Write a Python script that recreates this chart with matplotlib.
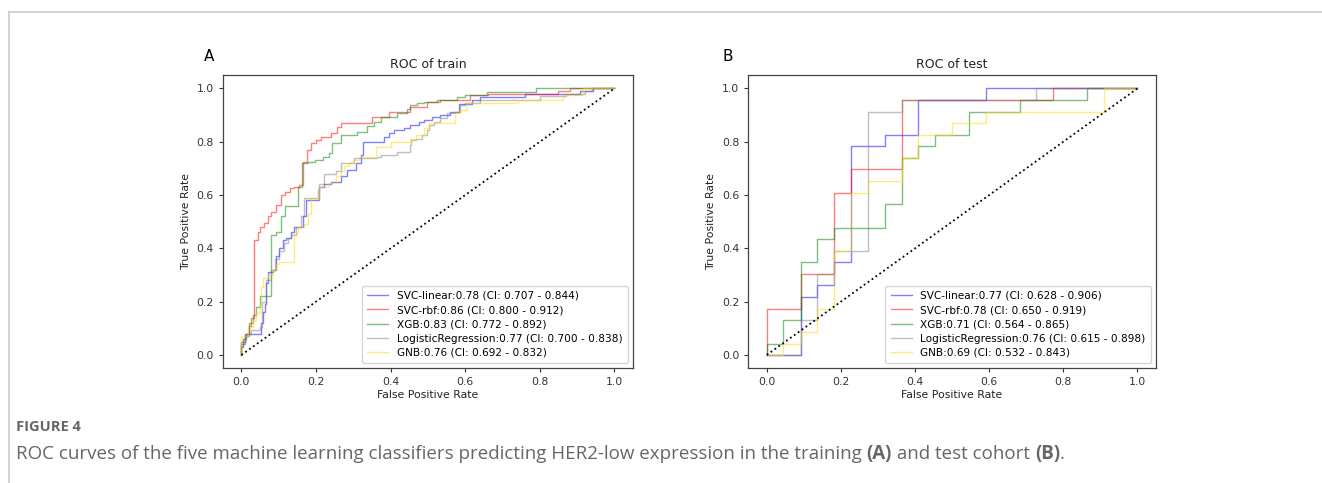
import matplotlib
matplotlib.use("Agg")
import matplotlib.pyplot as plt
from matplotlib.lines import Line2D

# ---- data (fpr where tpr jumps, tpr after the jump) ----
# training cohort
train_svc_lin_fpr = [0, 0.005, 0.013, 0.053, 0.058, 0.062, 0.067, 0.071, 0.084, 0.093, 0.102, 0.111, 0.12, 0.133,
                     0.142, 0.165, 0.173, 0.209, 0.222, 0.24, 0.267, 0.284, 0.307, 0.32, 0.326, 0.382, 0.396, 0.409,
                     0.436, 0.453, 0.476, 0.489, 0.511, 0.533, 0.56, 0.582, 0.618, 0.64, 0.76, 0.907, 0.942, 1]
train_svc_lin_tpr = [0.03, 0.06, 0.08, 0.12, 0.16, 0.19, 0.27, 0.31, 0.32, 0.37, 0.40, 0.43, 0.44, 0.46,
                     0.48, 0.52, 0.58, 0.63, 0.64, 0.65, 0.67, 0.694, 0.72, 0.75, 0.80, 0.816, 0.834, 0.844,
                     0.85, 0.862, 0.875, 0.881, 0.891, 0.90, 0.912, 0.941, 0.956, 0.969, 0.979, 0.99, 1.0, 1.0]

train_svc_rbf_fpr = [0, 0.01, 0.02, 0.027, 0.034, 0.044, 0.05, 0.06, 0.071, 0.08, 0.093, 0.105, 0.116, 0.129,
                     0.142, 0.155, 0.164, 0.176, 0.187, 0.2, 0.213, 0.24, 0.256, 0.267, 0.351, 0.395, 0.453,
                     0.498, 0.533, 0.613, 0.66, 0.848, 0.88, 1]
train_svc_rbf_tpr = [0.05, 0.08, 0.11, 0.139, 0.43, 0.46, 0.48, 0.495, 0.52, 0.537, 0.562, 0.60, 0.612, 0.625,
                     0.631, 0.637, 0.725, 0.769, 0.794, 0.806, 0.819, 0.831, 0.856, 0.869, 0.894, 0.912, 0.931,
                     0.95, 0.958, 0.975, 0.979, 0.99, 1.0, 1.0]

train_xgb_fpr = [0, 0.01, 0.02, 0.03, 0.04, 0.049, 0.08, 0.093, 0.107, 0.116, 0.151, 0.162, 0.178, 0.196, 0.218,
                 0.236, 0.244, 0.267, 0.311, 0.338, 0.356, 0.373, 0.418, 0.444, 0.453, 0.471, 0.489, 0.524, 0.578,
                 0.6, 0.658, 0.791, 1]
train_xgb_tpr = [0.04, 0.07, 0.12, 0.15, 0.18, 0.22, 0.45, 0.46, 0.52, 0.56, 0.63, 0.72, 0.725, 0.731, 0.744,
                 0.756, 0.794, 0.825, 0.838, 0.859, 0.875, 0.894, 0.906, 0.921, 0.938, 0.944, 0.95, 0.958, 0.969,
                 0.975, 0.988, 1.0, 1.0]

train_lr_fpr = [0, 0.01, 0.027, 0.049, 0.055, 0.067, 0.08, 0.09, 0.102, 0.115, 0.124, 0.133, 0.147, 0.16, 0.169,
                0.204, 0.209, 0.222, 0.253, 0.267, 0.302, 0.364, 0.373, 0.418, 0.453, 0.455, 0.467, 0.484, 0.498,
                0.502, 0.516, 0.533, 0.551, 0.573, 0.587, 0.6, 0.64, 0.8, 0.87, 0.92, 0.94, 1]
train_lr_tpr = [0.05, 0.08, 0.094, 0.106, 0.2, 0.28, 0.32, 0.36, 0.39, 0.42, 0.44, 0.45, 0.48, 0.52, 0.59,
                0.62, 0.64, 0.68, 0.69, 0.72, 0.7375, 0.744, 0.75, 0.7625, 0.787, 0.806, 0.812, 0.825, 0.844,
                0.8625, 0.875, 0.8875, 0.906, 0.912, 0.9375, 0.944, 0.956, 0.97, 0.98, 0.99, 1.0, 1.0]

train_gnb_fpr = [0, 0.018, 0.03, 0.04, 0.049, 0.053, 0.058, 0.071, 0.084, 0.093, 0.102, 0.142, 0.151, 0.169,
                 0.178, 0.187, 0.209, 0.231, 0.253, 0.267, 0.276, 0.289, 0.298, 0.316, 0.36, 0.4, 0.453, 0.467,
                 0.489, 0.502, 0.573, 0.585, 0.604, 0.742, 0.862, 0.915, 1]
train_gnb_tpr = [0.07, 0.106, 0.13, 0.156, 0.19, 0.256, 0.29, 0.30, 0.32, 0.34, 0.35, 0.46, 0.48, 0.49,
                 0.53, 0.59, 0.63, 0.645, 0.67, 0.69, 0.71, 0.725, 0.73, 0.744, 0.781, 0.80, 0.812, 0.825,
                 0.85, 0.869, 0.906, 0.92, 0.944, 0.956, 0.975, 1.0, 1.0]

# test cohort (22 negatives, 23 positives)
test_svc_lin_fpr = [0, 0.091, 0.136, 0.182, 0.227, 0.318, 0.409, 0.591, 1]
test_svc_lin_tpr = [0, 0.217, 0.261, 0.348, 0.783, 0.826, 0.957, 1.0, 1.0]

test_svc_rbf_fpr = [0, 0.091, 0.182, 0.227, 0.364, 0.773, 1]
test_svc_rbf_tpr = [0.174, 0.304, 0.609, 0.696, 0.957, 1.0, 1.0]

test_xgb_fpr = [0, 0.045, 0.091, 0.136, 0.182, 0.318, 0.364, 0.409, 0.455, 0.545, 0.682, 0.864, 1]
test_xgb_tpr = [0.043, 0.13, 0.348, 0.435, 0.478, 0.565, 0.739, 0.783, 0.826, 0.913, 0.957, 1.0, 1.0]

test_lr_fpr = [0, 0.091, 0.136, 0.182, 0.273, 0.364, 0.727, 1]
test_lr_tpr = [0, 0.13, 0.304, 0.391, 0.913, 0.957, 1.0, 1.0]

test_gnb_fpr = [0, 0.045, 0.091, 0.136, 0.182, 0.227, 0.273, 0.364, 0.409, 0.5, 0.591, 0.909, 1]
test_gnb_tpr = [0, 0.043, 0.087, 0.174, 0.391, 0.609, 0.652, 0.739, 0.826, 0.870, 0.913, 1.0, 1.0]

names = ["SVC-linear", "SVC-rbf", "XGB", "LogisticRegression", "GNB"]
colors = ["blue", "red", "green", "gray", "gold"]
train_auc = ["0.78 (CI: 0.707 - 0.844)", "0.86 (CI: 0.800 - 0.912)", "0.83 (CI: 0.772 - 0.892)",
             "0.77 (CI: 0.700 - 0.838)", "0.76 (CI: 0.692 - 0.832)"]
test_auc = ["0.77 (CI: 0.628 - 0.906)", "0.78 (CI: 0.650 - 0.919)", "0.71 (CI: 0.564 - 0.865)",
            "0.76 (CI: 0.615 - 0.898)", "0.69 (CI: 0.532 - 0.843)"]

train_curves = [(train_svc_lin_fpr, train_svc_lin_tpr), (train_svc_rbf_fpr, train_svc_rbf_tpr),
                (train_xgb_fpr, train_xgb_tpr), (train_lr_fpr, train_lr_tpr), (train_gnb_fpr, train_gnb_tpr)]
test_curves = [(test_svc_lin_fpr, test_svc_lin_tpr), (test_svc_rbf_fpr, test_svc_rbf_tpr),
               (test_xgb_fpr, test_xgb_tpr), (test_lr_fpr, test_lr_tpr), (test_gnb_fpr, test_gnb_tpr)]

fig = plt.figure(figsize=(13.22, 4.83), dpi=100)

# page frame lines
fig.add_artist(Line2D([9 / 1322, 1], [1 - 12 / 483, 1 - 12 / 483], color="#cccccc", lw=1.2))
fig.add_artist(Line2D([9 / 1322, 9 / 1322], [0, 1 - 12 / 483], color="#cccccc", lw=1.2))

panels = [
    ([0.1685, 0.2375, 0.3104, 0.607], 204, "A", "ROC of train", train_curves, train_auc),
    ([0.566, 0.2375, 0.3084, 0.607], 722, "B", "ROC of test", test_curves, test_auc),
]

for rect, letter_x, letter, title, curves, aucs in panels:
    ax = fig.add_axes(rect)
    for (fpr, tpr), name, c, auc in zip(curves, names, colors, aucs):
        ax.plot([0] + fpr, [0] + tpr, drawstyle="steps-post", color=c, alpha=0.5, lw=1.0,
                label=name + ":" + auc)
    ax.plot([0, 1], [0, 1], color="black", linestyle=":", lw=1.3)
    ax.set_xlim(-0.05, 1.05)
    ax.set_ylim(-0.05, 1.05)
    ax.set_xticks([0, 0.2, 0.4, 0.6, 0.8, 1.0])
    ax.set_yticks([0, 0.2, 0.4, 0.6, 0.8, 1.0])
    ax.tick_params(labelsize=7.8, length=3, width=0.8, colors="#333333")
    for s in ax.spines.values():
        s.set_color("#444444")
        s.set_linewidth(0.9)
    ax.set_xlabel("False Positive Rate", fontsize=7.8, color="#222222", labelpad=2)
    ax.set_ylabel("True Positive Rate", fontsize=7.8, color="#222222", labelpad=4)
    ax.set_title(title, fontsize=9, color="#222222", pad=5)
    ax.legend(loc="lower right", fontsize=7.6, handlelength=2.0, labelspacing=0.4, borderpad=0.5,
              framealpha=0.8)
    fig.text(letter_x / 1322, 1 - 61 / 483, letter, fontsize=11, color="black", ha="left", va="baseline")

# caption
fig.text(16 / 1322, 1 - 431 / 483, "FIGURE 4", fontsize=10.5, fontweight="bold", color="#666666",
         family="Open Sans", va="baseline")

pieces = [("ROC curves of the five machine learning classifiers predicting HER2-low expression in the training ", "normal"),
          ("(A)", "bold"), (" and test cohort ", "normal"), ("(B)", "bold"), (".", "normal")]
fig.canvas.draw()
renderer = fig.canvas.get_renderer()
x = 16 / 1322
for txt, w in pieces:
    t = fig.text(x, 1 - 459 / 483, txt, fontsize=13.5, fontweight=w, color="#666666",
                 family="Open Sans", va="baseline")
    bb = t.get_window_extent(renderer=renderer)
    x = bb.x1 / fig.bbox.width

fig.savefig("out.png", dpi=100)
